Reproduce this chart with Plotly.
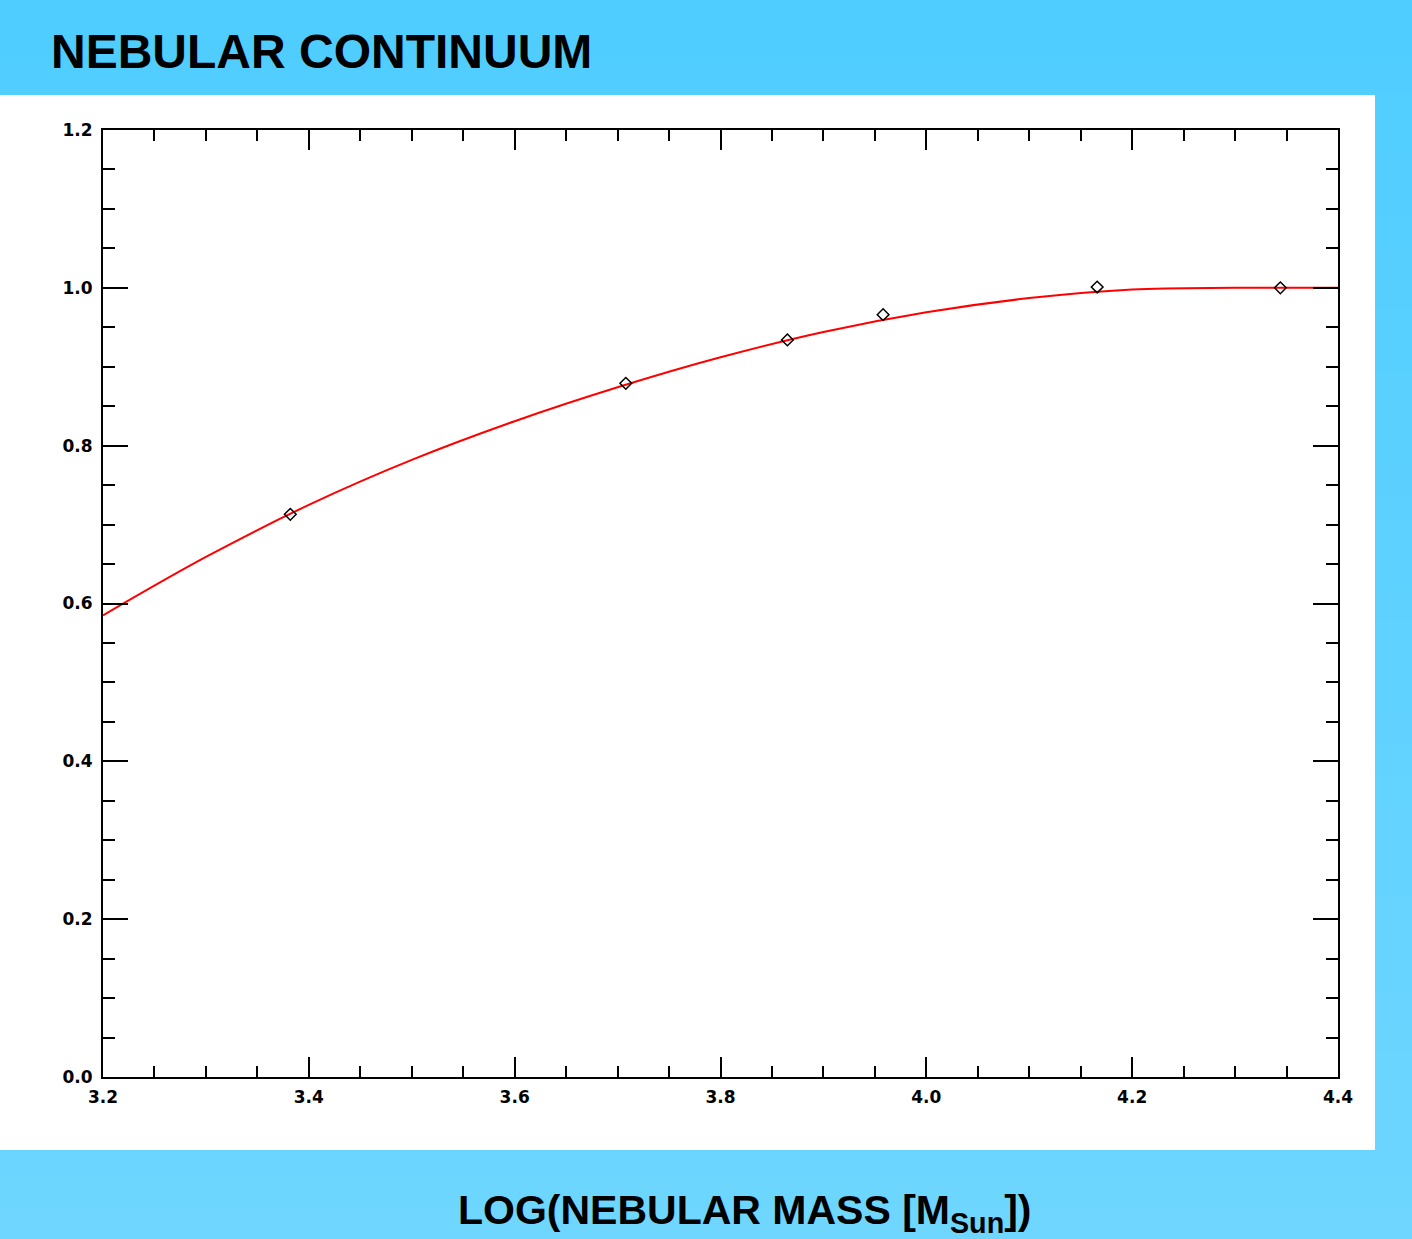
import plotly.graph_objects as go

# ---- data ----
point_x = [3.382, 3.708, 3.865, 3.958, 4.166, 4.344]
point_y = [0.713, 0.879, 0.934, 0.966, 1.001, 1.000]

curve_x = [3.2, 3.3, 3.4, 3.5, 3.6, 3.7, 3.8, 3.9, 4.0, 4.1, 4.2, 4.3, 4.4]
curve_y = [0.585, 0.659, 0.725, 0.782, 0.831, 0.874, 0.912, 0.944, 0.969, 0.987, 0.998, 1.0, 1.0]

x_ticks = [3.2, 3.4, 3.6, 3.8, 4.0, 4.2, 4.4]
x_tick_labels = ["3.2", "3.4", "3.6", "3.8", "4.0", "4.2", "4.4"]
y_ticks = [0.0, 0.2, 0.4, 0.6, 0.8, 1.0, 1.2]
y_tick_labels = ["0.0", "0.2", "0.4", "0.6", "0.8", "1.0", "1.2"]

title_text = "NEBULAR CONTINUUM"
xlabel_text = "LOG(NEBULAR MASS [M<sub>Sun</sub>])"

# ---- layout geometry (pixels) ----
W, H = 1412, 1239
L, R, T, B = 103, 1338, 130, 1077
pw, ph = R - L, B - T


def px(x):
    return (x - L) / pw


def py(y):
    return (B - y) / ph


fig = go.Figure()

fig.add_trace(go.Scatter(
    x=curve_x, y=curve_y, mode="lines",
    line=dict(color="#ff0000", width=2, shape="spline"),
    hoverinfo="skip", showlegend=False,
))
fig.add_trace(go.Scatter(
    x=point_x, y=point_y, mode="markers",
    marker=dict(symbol="diamond-open", size=9, color="black", line=dict(color="black", width=1.5)),
    showlegend=False,
))

shapes = []
# blue gradient background bands
nb = 40
c0 = (79, 205, 255)
c1 = (110, 214, 255)
for i in range(nb):
    y0 = H * i / nb
    y1 = H * (i + 1) / nb
    t = (i + 0.5) / nb
    c = tuple(round(c0[k] + (c1[k] - c0[k]) * t) for k in range(3))
    shapes.append(dict(
        type="rect", xref="paper", yref="paper", layer="below",
        x0=px(0), x1=px(W), y0=py(y1), y1=py(y0) + 0.0005,
        fillcolor="rgb(%d,%d,%d)" % c, line=dict(width=0),
    ))
# white panel
shapes.append(dict(
    type="rect", xref="paper", yref="paper", layer="below",
    x0=px(0), x1=px(1375), y0=py(1150), y1=py(95),
    fillcolor="white", line=dict(width=0),
))

tickfont = dict(family="DejaVu Sans", size=17, color="black", weight="bold")

fig.update_layout(
    width=W, height=H,
    margin=dict(l=L, r=W - R, t=T, b=H - B, pad=0),
    paper_bgcolor="rgb(95,210,255)",
    plot_bgcolor="rgba(0,0,0,0)",
    shapes=shapes,
    xaxis=dict(
        range=[3.2, 4.4], tickvals=x_ticks, ticktext=x_tick_labels,
        showgrid=False, zeroline=False,
        showline=True, linecolor="black", linewidth=2, mirror="ticks",
        ticks="inside", ticklen=20, tickwidth=2, tickcolor="black",
        minor=dict(dtick=0.05, tick0=3.2, ticks="inside", ticklen=11, tickwidth=2, tickcolor="black", showgrid=False),
        tickfont=tickfont, ticklabelstandoff=4,
    ),
    yaxis=dict(
        range=[0, 1.2], tickvals=y_ticks, ticktext=y_tick_labels,
        showgrid=False, zeroline=False,
        showline=True, linecolor="black", linewidth=2, mirror="ticks",
        ticks="inside", ticklen=25, tickwidth=2, tickcolor="black",
        minor=dict(dtick=0.05, tick0=0, ticks="inside", ticklen=12, tickwidth=2, tickcolor="black", showgrid=False),
        tickfont=tickfont, ticklabelstandoff=5,
    ),
    annotations=[
        dict(text="<b>%s</b>" % title_text, xref="paper", yref="paper",
             x=px(49), y=py(52), xanchor="left", yanchor="middle", showarrow=False,
             font=dict(family="Liberation Sans", size=48, color="black")),
        dict(text="<b>%s</b>" % xlabel_text, xref="paper", yref="paper",
             x=px(456), y=py(1241), xanchor="left", yanchor="bottom", showarrow=False,
             font=dict(family="Liberation Sans", size=41, color="black")),
    ],
)

fig.write_html("out.html")
